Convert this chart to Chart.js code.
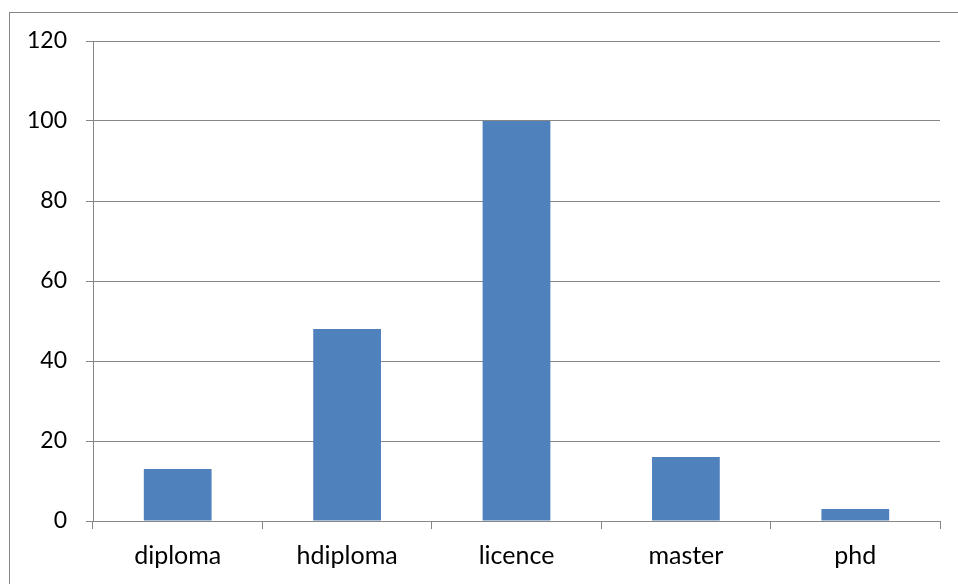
<!DOCTYPE html>
<html>
<head>
<meta charset="utf-8">
<script src="https://cdn.jsdelivr.net/npm/chart.js@4"></script>
<style>
  html, body { margin: 0; padding: 0; background: #ffffff; }
  #wrap { width: 958px; height: 584px; }
</style>
</head>
<body>
<div id="wrap"><canvas id="chart" width="958" height="584"></canvas></div>
<script>
const categories = ['diploma', 'hdiploma', 'licence', 'master', 'phd'];
const counts = [13, 48, 100, 16, 3];
const yTicks = [0, 20, 40, 60, 80, 100, 120];

const lineColor = '#868686';

// outer frame of the chart box, cut off at right and bottom
const framePlugin = {
    id: 'frame',
    beforeDraw(chart) {
        const { ctx } = chart;
        ctx.save();
        ctx.strokeStyle = lineColor;
        ctx.lineWidth = 1;
        ctx.strokeRect(9.5, 12.5, 2000, 2000);
        ctx.restore();
    }
};

new Chart(document.getElementById('chart'), {
    type: 'bar',
    data: {
        labels: categories,
        datasets: [{
            data: counts,
            backgroundColor: '#4f81bd',
            barPercentage: 0.4,
            categoryPercentage: 1
        }]
    },
    options: {
        responsive: false,
        animation: false,
        layout: { padding: { top: 41, right: 18, left: 0, bottom: 0 } },
        plugins: {
            legend: { display: false },
            tooltip: { enabled: false }
        },
        scales: {
            y: {
                min: 0,
                max: 120,
                afterBuildTicks(scale) {
                    scale.ticks = yTicks.map(v => ({ value: v }));
                },
                afterFit(scale) { scale.width = 93; },
                grid: { color: lineColor, tickLength: 7, lineWidth: 1 },
                border: { color: lineColor },
                ticks: { color: '#000000', font: { family: 'Lato, sans-serif', size: 23 }, padding: 19 }
            },
            x: {
                afterFit(scale) { scale.height = 63; },
                grid: { offset: true, drawOnChartArea: false, color: lineColor, tickLength: 8 },
                border: { color: lineColor },
                ticks: { color: '#000000', font: { family: 'Lato, sans-serif', size: 25 }, padding: 12 }
            }
        }
    },
    plugins: [framePlugin]
});
</script>
</body>
</html>
